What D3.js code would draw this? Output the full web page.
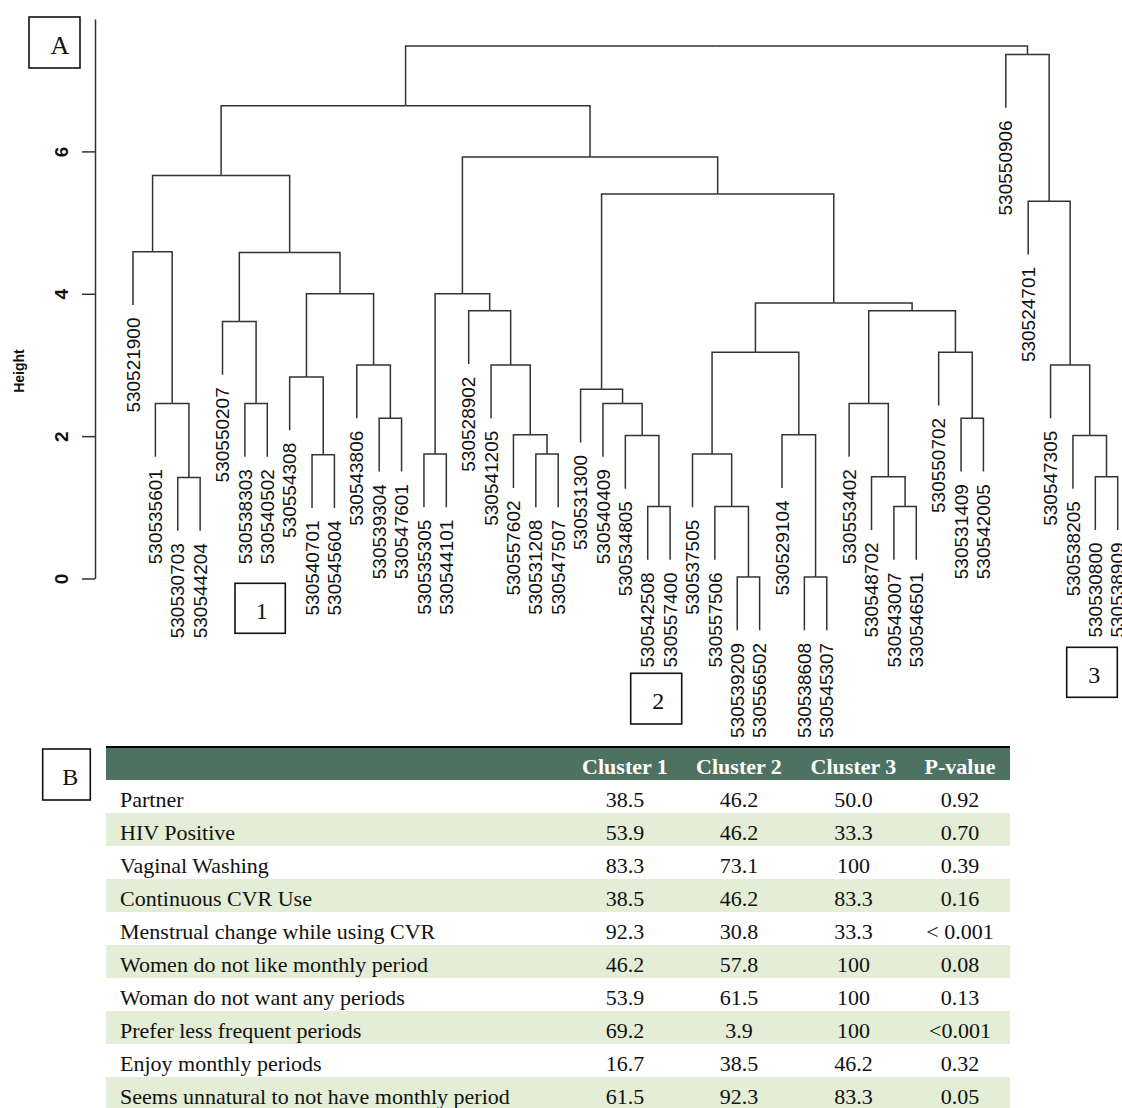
<!DOCTYPE html>
<html>
<head>
<meta charset="utf-8">
<script src="https://cdn.jsdelivr.net/npm/d3@7"></script>
<style>
  body { margin: 0; background: #fff; }
  svg { display: block; }
</style>
</head>
<body>
<svg id="chart" width="1122" height="1108"></svg>
<script>
// ---- dendrogram data (hclust style: negative = leaf, positive = earlier merge row)
const leafLabels = [
  "530521900", "530535601", "530530703", "530544204", "530550207", "530538303",
  "530540502", "530554308", "530540701", "530545604", "530543806", "530539304",
  "530547601", "530535305", "530544101", "530528902", "530541205", "530557602",
  "530531208", "530547507", "530531300", "530540409", "530534805", "530542508",
  "530557400", "530537505", "530557506", "530539209", "530556502", "530529104",
  "530538608", "530545307", "530553402", "530548702", "530543007", "530546501",
  "530550702", "530531409", "530542005", "530550906", "530524701", "530547305",
  "530538205", "530530800", "530538909"
];

const merges = [
  [-28, -29], [-31, -32], [-24, -25], [-27, 1], [-35, -36], [-3, -4],
  [-34, 5], [-44, -45], [-9, -10], [-14, -15], [-19, -20], [-26, 4],
  [-23, 3], [-18, 11], [-30, 2], [-43, 8], [-12, -13], [-38, -39],
  [-2, 6], [-6, -7], [-22, 13], [-33, 7], [-21, 21], [-8, 9],
  [-11, 17], [-17, 14], [-42, 16], [12, 15], [-37, 18], [-5, 20],
  [-16, 26], [22, 29], [28, 32], [24, 25], [10, 31], [30, 34],
  [-1, 19], [23, 33], [-41, 27], [37, 36], [35, 38], [40, 41],
  [-40, 39], [42, 43]
];

const mergeHeights = [
  0.02, 0.02, 1.01, 1.01, 1.01, 1.42,
  1.43, 1.43, 1.74, 1.75, 1.75, 1.75,
  2.01, 2.02, 2.02, 2.01, 2.25, 2.25,
  2.46, 2.46, 2.46, 2.46, 2.66, 2.83,
  3.00, 3.00, 3.00, 3.18, 3.18, 3.61,
  3.76, 3.76, 3.87, 4.00, 4.00, 4.58,
  4.59, 5.40, 5.30, 5.66, 5.92, 6.64,
  7.36, 7.48
];

const heightTicks = [0, 2, 4, 6];

// ---- table data
const tableHeader = ["", "Cluster 1", "Cluster 2", "Cluster 3", "P-value"];
const rowLabels = [
  "Partner", "HIV Positive", "Vaginal Washing", "Continuous CVR Use",
  "Menstrual change while using CVR", "Women do not like monthly period",
  "Woman do not want any periods", "Prefer less frequent periods",
  "Enjoy monthly periods", "Seems unnatural to not have monthly period"
];
const cluster1 = [38.5, 53.9, 83.3, 38.5, 92.3, 46.2, 53.9, 69.2, 16.7, 61.5];
const cluster2 = [46.2, 46.2, 73.1, 46.2, 30.8, 57.8, 61.5, 3.9, 38.5, 92.3];
const cluster3 = [50.0, 33.3, 100, 83.3, 33.3, 100, 100, 100, 46.2, 83.3];
const pValues = ["0.92", "0.70", "0.39", "0.16", "< 0.001", "0.08", "0.13", "<0.001", "0.32", "0.05"];

const panelLabels = ["A", "B"];
const clusterTags = ["1", "2", "3"];

// ---- layout
const svg = d3.select("#chart");
const sans = "'Liberation Sans', Arial, Helvetica, sans-serif";
const serif = "'Liberation Serif', 'Times New Roman', serif";
const lineColor = "#333";

const x = d3.scalePoint().domain(leafLabels).range([133, 1117.7]);
const y = d3.scaleLinear().domain([0, 7.86]).range([578.5, 19]);
const hang = 0.1 * d3.max(mergeHeights);

function buildNode(ref) {
  if (ref < 0) return { name: leafLabels[-ref - 1] };
  const [a, b] = merges[ref - 1];
  return { h: mergeHeights[ref - 1], children: [buildNode(a), buildNode(b)] };
}

const root = d3.hierarchy(buildNode(merges.length));
root.eachAfter(n => {
  if (n.children) {
    n.x = d3.mean(n.children, c => c.x);
    n.h = n.data.h;
  } else {
    n.x = x(n.data.name);
  }
});
root.leaves().forEach(n => { n.h = n.parent.data.h - hang; });

const dendro = svg.append("g");

dendro.selectAll("path.link")
  .data(root.descendants().filter(d => d.parent))
  .join("path")
  .attr("class", "link")
  .attr("fill", "none")
  .attr("stroke", lineColor)
  .attr("stroke-width", 1.5)
  .attr("d", d => `M${d.x},${y(d.h)}V${y(d.parent.h)}H${d.parent.x}`);

dendro.selectAll("text.leaf")
  .data(root.leaves())
  .join("text")
  .attr("class", "leaf")
  .attr("transform", d => `translate(${d.x},${y(d.h) + 12.5}) rotate(-90)`)
  .attr("text-anchor", "end")
  .attr("dy", "0.35em")
  .style("font-family", sans)
  .style("font-size", "19px")
  .attr("fill", "#111")
  .text(d => d.data.name);

// y axis
const gAxis = svg.append("g")
  .attr("transform", "translate(95,0)")
  .call(d3.axisLeft(y).tickValues(heightTicks).tickSize(13).tickSizeOuter(0).tickFormat(d3.format("d")));

gAxis.select(".domain").attr("stroke", lineColor).attr("stroke-width", 1.5);
gAxis.selectAll(".tick line").attr("stroke", lineColor).attr("stroke-width", 1.5);
gAxis.selectAll(".tick text")
  .attr("x", null)
  .attr("dy", "0.35em")
  .attr("transform", "translate(-33.3,0) rotate(-90)")
  .attr("text-anchor", "middle")
  .attr("fill", "#111")
  .style("font-family", sans)
  .style("font-size", "19px")
  .style("font-weight", "bold");

svg.append("text")
  .attr("transform", "translate(19,371) rotate(-90)")
  .attr("text-anchor", "middle")
  .attr("dy", "0.35em")
  .style("font-family", sans)
  .style("font-size", "14px")
  .style("font-weight", "bold")
  .attr("fill", "#111")
  .text("Height");

// annotation boxes
const boxes = [
  { t: panelLabels[0], x: 29, y: 17, w: 51, h: 51, tx: 60, ty: 53.5, fs: 26 },
  { t: panelLabels[1], x: 42.7, y: 749, w: 47.6, h: 51, tx: 70.3, ty: 785, fs: 24 },
  { t: clusterTags[0], x: 235, y: 583.3, w: 50.3, h: 50, tx: 261.7, ty: 619.3, fs: 24 },
  { t: clusterTags[1], x: 630.7, y: 673.3, w: 51, h: 50.7, tx: 658.3, ty: 709.3, fs: 24 },
  { t: clusterTags[2], x: 1066.7, y: 647.3, w: 50.6, h: 50, tx: 1094.3, ty: 682.7, fs: 24 }
];
const gBox = svg.append("g").selectAll("g").data(boxes).join("g");
gBox.append("rect")
  .attr("x", d => d.x).attr("y", d => d.y)
  .attr("width", d => d.w).attr("height", d => d.h)
  .attr("fill", "#fff").attr("stroke", "#111").attr("stroke-width", 1.6);
gBox.append("text")
  .attr("x", d => d.tx).attr("y", d => d.ty)
  .attr("text-anchor", "middle")
  .style("font-family", serif)
  .style("font-size", d => d.fs + "px")
  .attr("fill", "#111")
  .text(d => d.t);

// ---- table
const tLeft = 106, tRight = 1010, headTop = 748, headH = 32, rowH = 33;
const colX = [120, 625, 739, 853.5, 960];
const fmt = v => (v === 100 ? "100" : v.toFixed(1));

const table = svg.append("g");
table.append("rect").attr("x", tLeft).attr("y", headTop - 2).attr("width", tRight - tLeft).attr("height", 2).attr("fill", "#000");
table.append("rect").attr("x", tLeft).attr("y", headTop).attr("width", tRight - tLeft).attr("height", headH).attr("fill", "#4d7262");

table.selectAll("text.head")
  .data(tableHeader)
  .join("text")
  .attr("class", "head")
  .attr("x", (d, i) => colX[i])
  .attr("y", headTop + 26)
  .attr("text-anchor", "middle")
  .style("font-family", serif)
  .style("font-size", "22px")
  .style("font-weight", "bold")
  .attr("fill", "#fff")
  .text(d => d);

const rows = table.selectAll("g.row")
  .data(rowLabels.map((label, i) => ({
    i, cells: [label, fmt(cluster1[i]), fmt(cluster2[i]), fmt(cluster3[i]), pValues[i]]
  })))
  .join("g")
  .attr("class", "row")
  .attr("transform", d => `translate(0,${headTop + headH + d.i * rowH})`);

rows.filter(d => d.i % 2 === 1).append("rect")
  .attr("x", tLeft).attr("y", 0).attr("width", tRight - tLeft).attr("height", rowH)
  .attr("fill", "#e4edd6");

rows.selectAll("text")
  .data(d => d.cells)
  .join("text")
  .attr("x", (d, j) => colX[j])
  .attr("y", 27)
  .attr("text-anchor", (d, j) => (j === 0 ? "start" : "middle"))
  .style("font-family", serif)
  .style("font-size", "22px")
  .attr("fill", "#111")
  .text(d => d);
</script>
</body>
</html>
